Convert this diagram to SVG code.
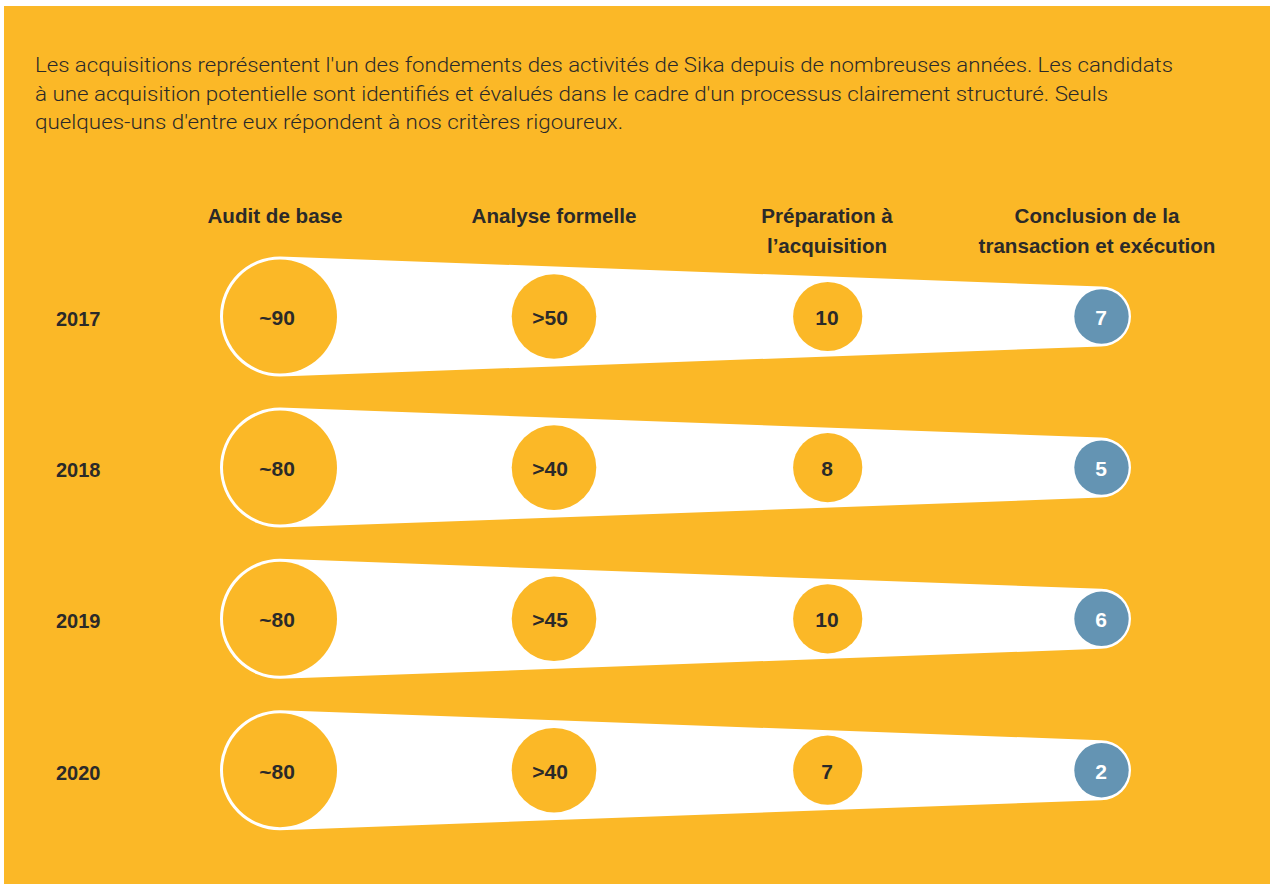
<svg xmlns="http://www.w3.org/2000/svg" width="1273" height="884" viewBox="0 0 1273 884">
  <style>
    .intro { font-family: "Roboto", "Liberation Sans", sans-serif; font-weight: 300; font-size: 20px; fill: #2b2a29; }
    .head { font-family: "Liberation Sans", "Roboto", sans-serif; font-weight: bold; font-size: 20.6px; fill: #2b2a29; text-anchor: middle; }
    .year { font-family: "Liberation Sans", "Roboto", sans-serif; font-weight: bold; font-size: 20px; fill: #2b2a29; }
    .num { font-family: "Liberation Sans", "Roboto", sans-serif; font-weight: bold; font-size: 21px; fill: #2b2a29; text-anchor: middle; }
    .num-w { font-family: "Liberation Sans", "Roboto", sans-serif; font-weight: bold; font-size: 21px; fill: #ffffff; text-anchor: middle; }
    .funnel { fill: #ffffff; }
    .disc { fill: #fbb827; }
    .done { fill: #6494b3; }
  </style>
  <defs>
    <!-- funnel outline: big circle r=60 at (280,0), small circle r=30 at (1101,0) -->
    <path id="funnel-shape" d="M280,-60 L1101,-30 A30,30 0 0 1 1101,30 L280,60 A60,60 0 0 1 280,-60 Z"/>
  </defs>

  <rect x="4" y="6" width="1266" height="878" fill="#fbb827"/>

  <g id="intro">
    <text class="intro" x="35" y="72" textLength="1138" lengthAdjust="spacingAndGlyphs">Les acquisitions représentent l'un des fondements des activités de Sika depuis de nombreuses années. Les candidats</text>
    <text class="intro" x="35" y="100.5" textLength="1073" lengthAdjust="spacingAndGlyphs">à une acquisition potentielle sont identifiés et évalués dans le cadre d'un processus clairement structuré. Seuls</text>
    <text class="intro" x="35" y="128.8" textLength="588" lengthAdjust="spacingAndGlyphs">quelques-uns d'entre eux répondent à nos critères rigoureux.</text>
  </g>

  <g id="headers">
    <text class="head" x="275" y="223">Audit de base</text>
    <text class="head" x="554" y="223">Analyse formelle</text>
    <text class="head" x="827" y="223">Préparation à</text>
    <text class="head" x="827" y="253">l’acquisition</text>
    <text class="head" x="1097" y="223">Conclusion de la</text>
    <text class="head" x="1097" y="253">transaction et exécution</text>
  </g>

  <g id="funnels">
    <use href="#funnel-shape" class="funnel" transform="translate(0,316.5)"/>
    <use href="#funnel-shape" class="funnel" transform="translate(0,467.6)"/>
    <use href="#funnel-shape" class="funnel" transform="translate(0,618.8)"/>
    <use href="#funnel-shape" class="funnel" transform="translate(0,770.2)"/>
  </g>

  <g id="years">
    <text class="year" x="56" y="326">2017</text>
    <text class="year" x="56" y="477">2018</text>
    <text class="year" x="56" y="628">2019</text>
    <text class="year" x="56" y="779.5">2020</text>
  </g>

  <!-- 2017 -->
  <g id="y2017-audit"><circle class="disc" cx="280" cy="316.5" r="57"/><text class="num" x="277" y="325">~90</text></g>
  <g id="y2017-analyse"><circle class="disc" cx="554" cy="316.5" r="42.3"/><text class="num" x="550" y="325">&gt;50</text></g>
  <g id="y2017-prep"><circle class="disc" cx="827.7" cy="316.5" r="34.6"/><text class="num" x="827" y="325">10</text></g>
  <g id="y2017-close"><circle class="done" cx="1101.5" cy="316.5" r="27.2"/><text class="num-w" x="1101" y="325">7</text></g>

  <!-- 2018 -->
  <g id="y2018-audit"><circle class="disc" cx="280" cy="467.6" r="57"/><text class="num" x="277" y="476.1">~80</text></g>
  <g id="y2018-analyse"><circle class="disc" cx="554" cy="467.6" r="42.3"/><text class="num" x="550" y="476.1">&gt;40</text></g>
  <g id="y2018-prep"><circle class="disc" cx="827.7" cy="467.6" r="34.6"/><text class="num" x="827" y="476.1">8</text></g>
  <g id="y2018-close"><circle class="done" cx="1101.5" cy="467.6" r="27.2"/><text class="num-w" x="1101" y="476.1">5</text></g>

  <!-- 2019 -->
  <g id="y2019-audit"><circle class="disc" cx="280" cy="618.8" r="57"/><text class="num" x="277" y="627.3">~80</text></g>
  <g id="y2019-analyse"><circle class="disc" cx="554" cy="618.8" r="42.3"/><text class="num" x="550" y="627.3">&gt;45</text></g>
  <g id="y2019-prep"><circle class="disc" cx="827.7" cy="618.8" r="34.6"/><text class="num" x="827" y="627.3">10</text></g>
  <g id="y2019-close"><circle class="done" cx="1101.5" cy="618.8" r="27.2"/><text class="num-w" x="1101" y="627.3">6</text></g>

  <!-- 2020 -->
  <g id="y2020-audit"><circle class="disc" cx="280" cy="770.2" r="57"/><text class="num" x="277" y="778.7">~80</text></g>
  <g id="y2020-analyse"><circle class="disc" cx="554" cy="770.2" r="42.3"/><text class="num" x="550" y="778.7">&gt;40</text></g>
  <g id="y2020-prep"><circle class="disc" cx="827.7" cy="770.2" r="34.6"/><text class="num" x="827" y="778.7">7</text></g>
  <g id="y2020-close"><circle class="done" cx="1101.5" cy="770.2" r="27.2"/><text class="num-w" x="1101" y="778.7">2</text></g>
</svg>
